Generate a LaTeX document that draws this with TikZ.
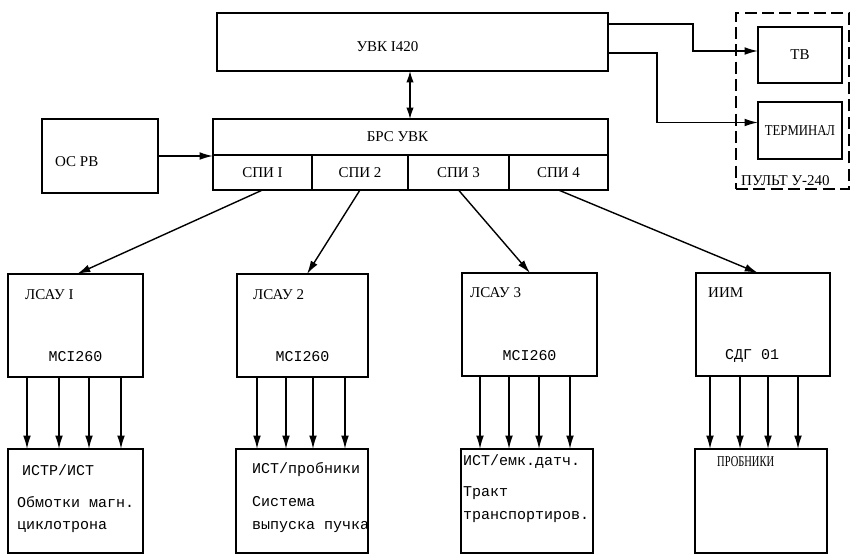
\documentclass[tikz,border=0pt]{standalone}
\usepackage{fontspec}
\setmainfont{Liberation Serif}
\newfontfamily\monof{Liberation Mono}
\usepackage{graphicx}
\usetikzlibrary{arrows.meta,calc}
\newcommand\mkbox[6][]{\node[box,#1,anchor=north west,minimum width=#5*0.3mm,minimum height=#6*0.3mm] (#2) at (#3,#4) {};}
\begin{document}
\begin{tikzpicture}[x=0.3mm,y=-0.3mm,
  box/.style={draw, rectangle, line width=1.4pt, inner sep=0pt, outer sep=0pt},
  dashbox/.style={dash pattern=on 3.6mm off 1.6mm},
  lab/.style={font=\fontsize{12.8}{14}\selectfont, inner sep=0pt},
  mono/.style={font=\monof\fontsize{12.8}{15}\selectfont, inner sep=0pt, anchor=west},
  arr/.style={line width=1.2pt, -{Latex[length=4mm,width=2.3mm]}},
  arrboth/.style={line width=1.2pt, {Latex[length=3.4mm,width=2.2mm]}-{Latex[length=3.4mm,width=2.2mm]}}]
\useasboundingbox (0,0) rectangle (856,556);

% boxes
\mkbox{uvk}{217}{13}{391}{58}
\mkbox{brs}{213}{119}{395}{71}
\mkbox{spi1}{213}{155}{99}{35}
\mkbox{spi2}{312}{155}{96}{35}
\mkbox{spi3}{408}{155}{101}{35}
\mkbox{spi4}{509}{155}{99}{35}
\mkbox{osrv}{42}{119}{116}{74}
\mkbox{tv}{758}{27}{84}{56}
\mkbox{term}{758}{102}{84}{57}
\mkbox[dashbox]{pult}{736}{13}{113}{176}
\mkbox{l1}{8}{274}{135}{103}
\mkbox{l2}{237}{274}{131}{103}
\mkbox{l3}{462}{273}{135}{103}
\mkbox{iim}{696}{273}{134}{103}
\mkbox{b1}{8}{449}{135}{104}
\mkbox{b2}{236}{449}{132}{104}
\mkbox{b3}{461}{449}{132}{104}
\mkbox{b4}{695}{449}{132}{104}

% texts
\node[lab] (t-uvk) at ($(uvk.center)+(-25,5)$) {УВК I420};
\node[lab] (t-brs) at ($(brs.north)+(-13,18)$) {БРС УВК};
\node[lab] (t-s1) at (spi1.center) {СПИ I};
\node[lab] (t-s2) at (spi2.center) {СПИ 2};
\node[lab] (t-s3) at (spi3.center) {СПИ 3};
\node[lab] (t-s4) at (spi4.center) {СПИ 4};
\node[lab,anchor=west] (t-os) at ($(osrv.north west)+(13,43)$) {ОС РВ};
\node[lab] (t-tv) at (tv.center) {ТВ};
\node[lab] (t-term) at (term.center) {\scalebox{0.85}[1]{ТЕРМИНАЛ}};
\node[lab,anchor=west] (t-pult) at ($(pult.south west)+(5,-8)$) {ПУЛЬТ У-240};

\node[lab,anchor=west] (t-l1) at ($(l1.north west)+(17,21)$) {ЛСАУ I};
\node[lab,anchor=west] (t-l2) at ($(l2.north west)+(16,21)$) {ЛСАУ 2};
\node[lab,anchor=west] (t-l3) at ($(l3.north west)+(8,20)$) {ЛСАУ 3};
\node[lab,anchor=west] (t-iim) at ($(iim.north west)+(12,20)$) {ИИМ};
\node[mono,anchor=center] (m-l1) at ($(l1.south)+(0,-20)$) {MCI260};
\node[mono,anchor=center] (m-l2) at ($(l2.south)+(0,-20)$) {MCI260};
\node[mono,anchor=center] (m-l3) at ($(l3.south)+(0,-20)$) {MCI260};
\node[mono,anchor=center] (m-iim) at ($(iim.south)+(-11,-20)$) {СДГ 01};

\node[mono] (b1a) at ($(b1.north west)+(14,21)$) {ИСТР/ИСТ};
\node[mono] (b1b) at ($(b1.north west)+(9,53)$) {Обмотки магн.};
\node[mono] (b1c) at ($(b1.north west)+(9,78)$) {циклотрона};
\node[mono] (b2a) at ($(b2.north west)+(16,21)$) {ИСТ/пробники};
\node[mono] (b2b) at ($(b2.north west)+(16,53)$) {Система};
\node[mono] (b2c) at ($(b2.north west)+(16,78)$) {выпуска пучка};
\node[mono] (b3a) at ($(b3.north west)+(2,13)$) {ИСТ/емк.датч.};
\node[mono] (b3b) at ($(b3.north west)+(2,44)$) {Тракт};
\node[mono] (b3c) at ($(b3.north west)+(2,68)$) {транспортиров.};
\node[lab,anchor=west] (b4a) at ($(b4.north west)+(22,13)$) {\scalebox{0.7}[1]{ПРОБНИКИ}};

% connectors
\coordinate (ux) at (410,0);
\draw[arrboth] (uvk.south -| ux) -- (brs.north -| ux);
\draw[arr] (osrv.east) -- (osrv.east -| brs.west);
\draw[arr] ($(uvk.north east)+(0,11)$) -- ++(85,0) |- ($(tv.west)+(0,-4)$);
\draw[arr] ($(uvk.north east)+(0,40)$) -- ++(49,0) |- ($(term.west)+(0,-8)$);

\draw[arr] (spi1.south) -- ($(l1.north west)+(69,0)$);
\draw[arr] (spi2.south) -- ($(l2.north west)+(70,0)$);
\draw[arr] (spi3.south) -- ($(l3.north west)+(68,0)$);
\draw[arr] (spi4.south) -- ($(iim.north west)+(62,0)$);

\foreach \dx in {19,51,81,113} {
  \coordinate (s) at ($(l1.south west)+(\dx,0)$);
  \draw[arr] (s) -- (s |- b1.north);
}
\foreach \dx in {20,49,76,108} {
  \coordinate (s) at ($(l2.south west)+(\dx,0)$);
  \draw[arr] (s) -- (s |- b2.north);
}
\foreach \dx in {18,47,77,108} {
  \coordinate (s) at ($(l3.south west)+(\dx,0)$);
  \draw[arr] (s) -- (s |- b3.north);
}
\foreach \dx in {14,44,72,102} {
  \coordinate (s) at ($(iim.south west)+(\dx,0)$);
  \draw[arr] (s) -- (s |- b4.north);
}
\end{tikzpicture}
\end{document}
